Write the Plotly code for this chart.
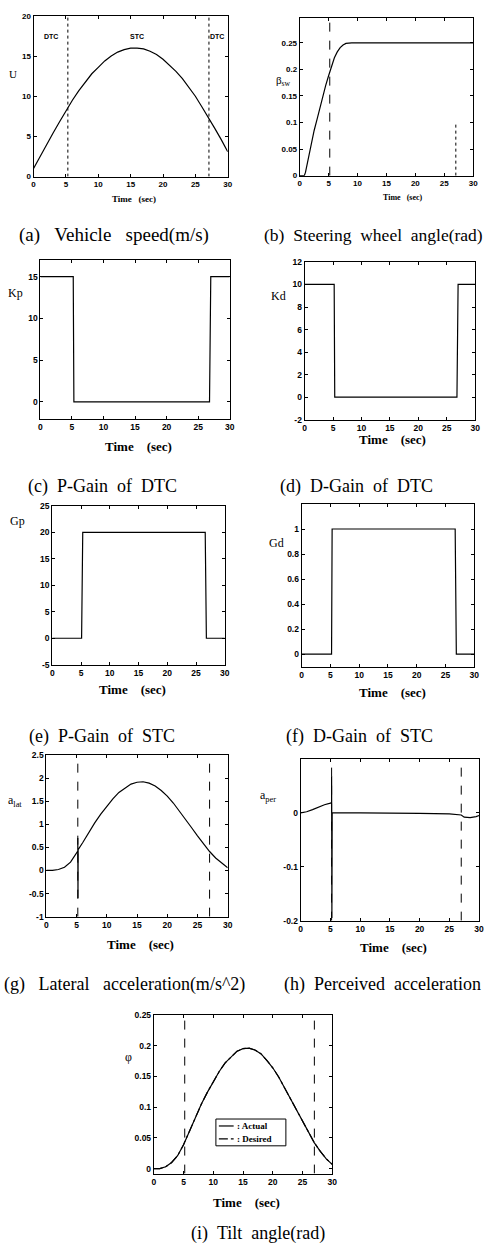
import plotly.graph_objects as go

W, H = 490, 1252

# ---------------- data ----------------
x_ticks = [0, 5, 10, 15, 20, 25, 30]
x_tick_text = ["0", "5", "10", "15", "20", "25", "30"]
switch_times = [5.2, 27.0]

time_u = list(range(31))
speed_u = [1.0, 2.5, 4.0, 5.4, 6.8, 8.2, 9.5, 10.7, 11.8, 12.8, 13.6, 14.4, 15.0, 15.5,
           15.8, 16.0, 16.0, 15.9, 15.6, 15.2, 14.6, 13.9, 13.1, 12.2, 11.1, 10.0, 8.7,
           7.4, 6.0, 4.6, 3.1]

time_beta = [0, 0.8, 1.0, 1.5, 2.0, 2.5, 3.0, 3.5, 4.0, 4.5, 5.0, 5.5, 6.0, 6.5, 7.0,
             7.5, 8.0, 9.0, 30.0]
beta_sw = [0, 0, 0.006, 0.032, 0.063, 0.085, 0.106, 0.128, 0.15, 0.17, 0.188, 0.205,
           0.222, 0.233, 0.241, 0.246, 0.249, 0.25, 0.25]

time_kp = [0, 5.2, 5.3, 26.8, 27.0, 30]
kp_gain = [15, 15, 0, 0, 15, 15]

time_kd = [0, 5.2, 5.3, 26.8, 27.0, 30]
kd_gain = [10, 10, 0, 0, 10, 10]

time_gp = [0, 5.1, 5.3, 26.6, 26.8, 30]
gp_gain = [0, 0, 20, 20, 0, 0]

time_gd = [0, 5.2, 5.3, 26.7, 26.9, 30]
gd_gain = [0, 0, 1, 1, 0, 0]

time_alat = [0, 1, 2, 3, 4, 5, 5.2, 5.2, 5.23, 5.26, 6, 7, 8, 9, 10, 11, 12, 13, 14, 15,
             16, 17, 18, 19, 20, 21, 22, 23, 24, 25, 26, 27, 28, 29, 30]
a_lat = [0, 0, 0.02, 0.07, 0.18, 0.36, 0.42, 0.7, -0.6, 0.45, 0.6, 0.82, 1.03, 1.22,
         1.39, 1.55, 1.69, 1.79, 1.87, 1.91, 1.92, 1.89, 1.83, 1.73, 1.61, 1.46, 1.29,
         1.11, 0.93, 0.75, 0.57, 0.41, 0.27, 0.16, 0.06]

time_aper = [0, 1, 2, 3, 4, 5, 5.2, 5.2, 5.25, 5.3, 10, 15, 20, 25, 26.5, 27, 27.5,
             28.5, 29.5, 30]
a_per = [0, 0.002, 0.006, 0.011, 0.015, 0.018, 0.019, 0.068, -0.195, 0, 0, 0, -0.001,
         -0.002, -0.003, -0.004, -0.008, -0.009, -0.007, -0.005]

time_phi = list(range(31))
phi_actual = [0, 0, 0.003, 0.01, 0.021, 0.039, 0.061, 0.084, 0.105, 0.124, 0.142, 0.158,
              0.172, 0.182, 0.191, 0.195, 0.196, 0.193, 0.187, 0.176, 0.164, 0.149,
              0.131, 0.113, 0.095, 0.076, 0.058, 0.042, 0.028, 0.016, 0.007]
phi_desired = [0, 0, 0.003, 0.01, 0.021, 0.039, 0.061, 0.084, 0.105, 0.124, 0.142, 0.158,
               0.172, 0.182, 0.191, 0.195, 0.196, 0.193, 0.187, 0.176, 0.164, 0.149,
               0.131, 0.113, 0.095, 0.076, 0.058, 0.042, 0.028, 0.016, 0.007]
legend_labels = [": Actual", ": Desired"]

# ---------------- layout helpers ----------------
NB = "\u00a0"


def sp(n):
    return NB * n


panels = [
    dict(box=(32, 229, 11, 173), yr=[0, 20], yt=[0, 5, 10, 15, 20], ytt=["0", "5", "10", "15", "20"],
         ylab="U", ylpos=(11, 70), xt_pos=(134, 196), xt_size=9, xt_gap=3, tk=8,
         cap="(a)" + sp(3) + "Vehicle" + sp(3) + "speed(m/s)", cap_pos=(114, 232), cap_size=19),
    dict(box=(302, 478, 13, 172), yr=[0, 0.297], yt=[0, 0.05, 0.1, 0.15, 0.2, 0.25],
         ytt=["0", "0.05", "0.1", "0.15", "0.2", "0.25"],
         ylab="β<sub>sw</sub>", ylpos=(286, 77), xt_pos=(407, 194), xt_size=8, xt_gap=3, tk=8,
         cap="(b)" + sp(2) + "Steering" + sp(2) + "wheel" + sp(2) + "angle(rad)", cap_pos=(377, 232),
         cap_size=17.5),
    dict(box=(39, 231, 257, 417), yr=[-2, 17], yt=[0, 5, 10, 15], ytt=["0", "5", "10", "15"],
         ylab="Kp", ylpos=(14, 290), xt_pos=(138, 445), xt_size=13, xt_gap=4, tk=8.5,
         cap="(c)" + sp(2) + "P-Gain" + sp(2) + "of" + sp(2) + "DTC", cap_pos=(102, 485), cap_size=18),
    dict(box=(307, 480, 259, 418), yr=[-2, 12], yt=[-2, 0, 2, 4, 6, 8, 10, 12],
         ytt=["-2", "0", "2", "4", "6", "8", "10", "12"],
         ylab="Kd", ylpos=(281, 293), xt_pos=(396, 438), xt_size=13, xt_gap=4, tk=8.5,
         cap="(d)" + sp(2) + "D-Gain" + sp(2) + "of" + sp(2) + "DTC", cap_pos=(360, 485), cap_size=18),
    dict(box=(51, 226, 505, 665), yr=[-5, 25], yt=[-5, 0, 5, 10, 15, 20, 25],
         ytt=["-5", "0", "5", "10", "15", "20", "25"],
         ylab="Gp", ylpos=(16, 520), xt_pos=(132, 690), xt_size=13, xt_gap=4, tk=8.5,
         cap="(e)" + sp(2) + "P-Gain" + sp(2) + "of" + sp(2) + "STC", cap_pos=(101, 737), cap_size=18),
    dict(box=(304, 479, 503, 667), yr=[-0.1, 1.2], yt=[0, 0.2, 0.4, 0.6, 0.8, 1],
         ytt=["0", "0.2", "0.4", "0.6", "0.8", "1"],
         ylab="Gd", ylpos=(278, 542), xt_pos=(396, 693), xt_size=13, xt_gap=4, tk=8.5,
         cap="(f)" + sp(2) + "D-Gain" + sp(2) + "of" + sp(2) + "STC", cap_pos=(363, 737), cap_size=18),
    dict(box=(45, 229, 756, 919), yr=[-1, 2.5], yt=[-1, -0.5, 0, 0.5, 1, 1.5, 2, 2.5],
         ytt=["-1", "-0.5", "0", "0.5", "1", "1.5", "2", "2.5"],
         ylab="a<sub>lat</sub>", ylpos=(13, 802), xt_pos=(141, 947), xt_size=13, xt_gap=4, tk=8.5,
         cap="(g)" + sp(3) + "Lateral" + sp(3) + "acceleration(m/s^2)", cap_pos=(124, 987), cap_size=18),
    dict(box=(303, 484, 760, 923), yr=[-0.2, 0.1], yt=[-0.2, -0.1, 0],
         ytt=["-0.2", "-0.1", "0"],
         ylab="a<sub>per</sub>", ylpos=(270, 797), xt_pos=(397, 950), xt_size=13, xt_gap=4, tk=8.5,
         cap="(h)" + sp(2) + "Perceived" + sp(2) + "acceleration", cap_pos=(386, 987), cap_size=18),
    dict(box=(154, 335, 1018, 1178), yr=[-0.008, 0.25], yt=[0, 0.05, 0.1, 0.15, 0.2, 0.25],
         ytt=["0", "0.05", "0.1", "0.15", "0.2", "0.25"],
         ylab="φ", ylpos=(128, 1060), xt_pos=(248, 1207), xt_size=13, xt_gap=4, tk=8.5,
         cap="(i)" + sp(2) + "Tilt" + sp(2) + "angle(rad)", cap_pos=(260, 1238), cap_size=18),
]

fig = go.Figure()


def axn(n):
    return "" if n == 1 else str(n)


def add_line(n, x, y, dash="solid", width=1.2):
    a = axn(n)
    fig.add_trace(go.Scatter(x=x, y=y, mode="lines", showlegend=False,
                             line=dict(color="black", width=width, dash=dash),
                             xaxis="x" + a, yaxis="y" + a, hoverinfo="skip"))


# (a)
for t in switch_times:
    add_line(1, [t + 0.1, t + 0.1], panels[0]["yr"], dash="dot", width=1)
add_line(1, time_u, speed_u)
# (b)
add_line(2, [switch_times[0], switch_times[0]], panels[1]["yr"], dash="dash", width=1)
add_line(2, [switch_times[1], switch_times[1]], [0, 0.1], dash="dot", width=1)
add_line(2, time_beta, beta_sw)
# (c)-(f)
add_line(3, time_kp, kp_gain)
add_line(4, time_kd, kd_gain)
add_line(5, time_gp, gp_gain)
add_line(6, time_gd, gd_gain)
# (g)
for t in switch_times:
    add_line(7, [t, t], panels[6]["yr"], dash="dash", width=1)
add_line(7, time_alat, a_lat)
# (h)
for t in switch_times:
    add_line(8, [t, t], panels[7]["yr"], dash="dash", width=1)
add_line(8, time_aper, a_per)
# (i)
for t in switch_times:
    add_line(9, [t, t], panels[8]["yr"], dash="dash", width=1)
add_line(9, time_phi, phi_actual)
add_line(9, time_phi, phi_desired, dash="dashdot", width=1.2)

layout = dict(width=W, height=H, margin=dict(l=0, r=0, t=0, b=0),
              paper_bgcolor="white", plot_bgcolor="white", showlegend=False)
annotations = []
shapes = []

for n, p in enumerate(panels, 1):
    L, R, T, B = p["box"]
    a = axn(n)
    tickfont = dict(family="Liberation Sans", size=p["tk"], color="black", weight="bold")
    common = dict(showline=True, linecolor="black", linewidth=1, mirror="ticks",
                  ticks="inside", ticklen=3, tickcolor="black", tickwidth=1,
                  showgrid=False, zeroline=False, tickfont=tickfont, fixedrange=True)
    layout["xaxis" + a] = dict(domain=[L / W, R / W], range=[0, 30], tickvals=x_ticks,
                               ticktext=x_tick_text, anchor="y" + a, **common)
    layout["yaxis" + a] = dict(domain=[1 - B / H, 1 - T / H], range=p["yr"], tickvals=p["yt"],
                               ticktext=p["ytt"], anchor="x" + a, **common)
    annotations.append(dict(text=p["ylab"], x=p["ylpos"][0] / W, y=1 - p["ylpos"][1] / H,
                            xref="paper", yref="paper", showarrow=False,
                            xanchor="center", yanchor="middle",
                            font=dict(family="Liberation Serif", size=12 if n > 2 else 11,
                                      color="black")))
    annotations.append(dict(text="Time" + sp(p["xt_gap"]) + "(sec)", x=p["xt_pos"][0] / W,
                            y=1 - p["xt_pos"][1] / H, xref="paper", yref="paper",
                            showarrow=False, xanchor="center", yanchor="middle",
                            font=dict(family="Liberation Serif", size=p["xt_size"],
                                      color="black", weight="bold")))
    annotations.append(dict(text=p["cap"], x=p["cap_pos"][0] / W, y=1 - p["cap_pos"][1] / H,
                            xref="paper", yref="paper", showarrow=False,
                            xanchor="center", yanchor="middle",
                            font=dict(family="Liberation Serif", size=p["cap_size"],
                                      color="black")))

# DTC / STC labels in (a)
for txt, xp in [("DTC", 50), ("STC", 137), ("DTC", 218)]:
    annotations.append(dict(text=txt, x=xp / W, y=1 - 32 / H, xref="paper", yref="paper",
                            showarrow=False, xanchor="center", yanchor="middle",
                            font=dict(family="Liberation Sans", size=7, color="black",
                                      weight="bold")))

# legend box of (i)
lx0, lx1, ly0, ly1 = 217, 288, 1123, 1150
shapes.append(dict(type="rect", xref="paper", yref="paper", x0=lx0 / W, x1=lx1 / W,
                   y0=1 - ly1 / H, y1=1 - ly0 / H, line=dict(color="black", width=1),
                   fillcolor="white", layer="above"))
for k, (lab, dash) in enumerate(zip(legend_labels, ["solid", "dashdot"])):
    yy = 1130 + k * 13
    shapes.append(dict(type="line", xref="paper", yref="paper", x0=220 / W, x1=235 / W,
                       y0=1 - yy / H, y1=1 - yy / H, layer="above",
                       line=dict(color="black", width=1.2, dash=dash)))
    annotations.append(dict(text=lab, x=236 / W, y=1 - yy / H, xref="paper", yref="paper",
                            showarrow=False, xanchor="left", yanchor="middle",
                            font=dict(family="Liberation Serif", size=9, color="black",
                                      weight="bold")))

layout["annotations"] = annotations
layout["shapes"] = shapes
fig.update_layout(**layout)

fig.write_html("out.html", config={"displayModeBar": False},
               post_script="document.body.style.margin='0';document.body.style.overflow='hidden';")
